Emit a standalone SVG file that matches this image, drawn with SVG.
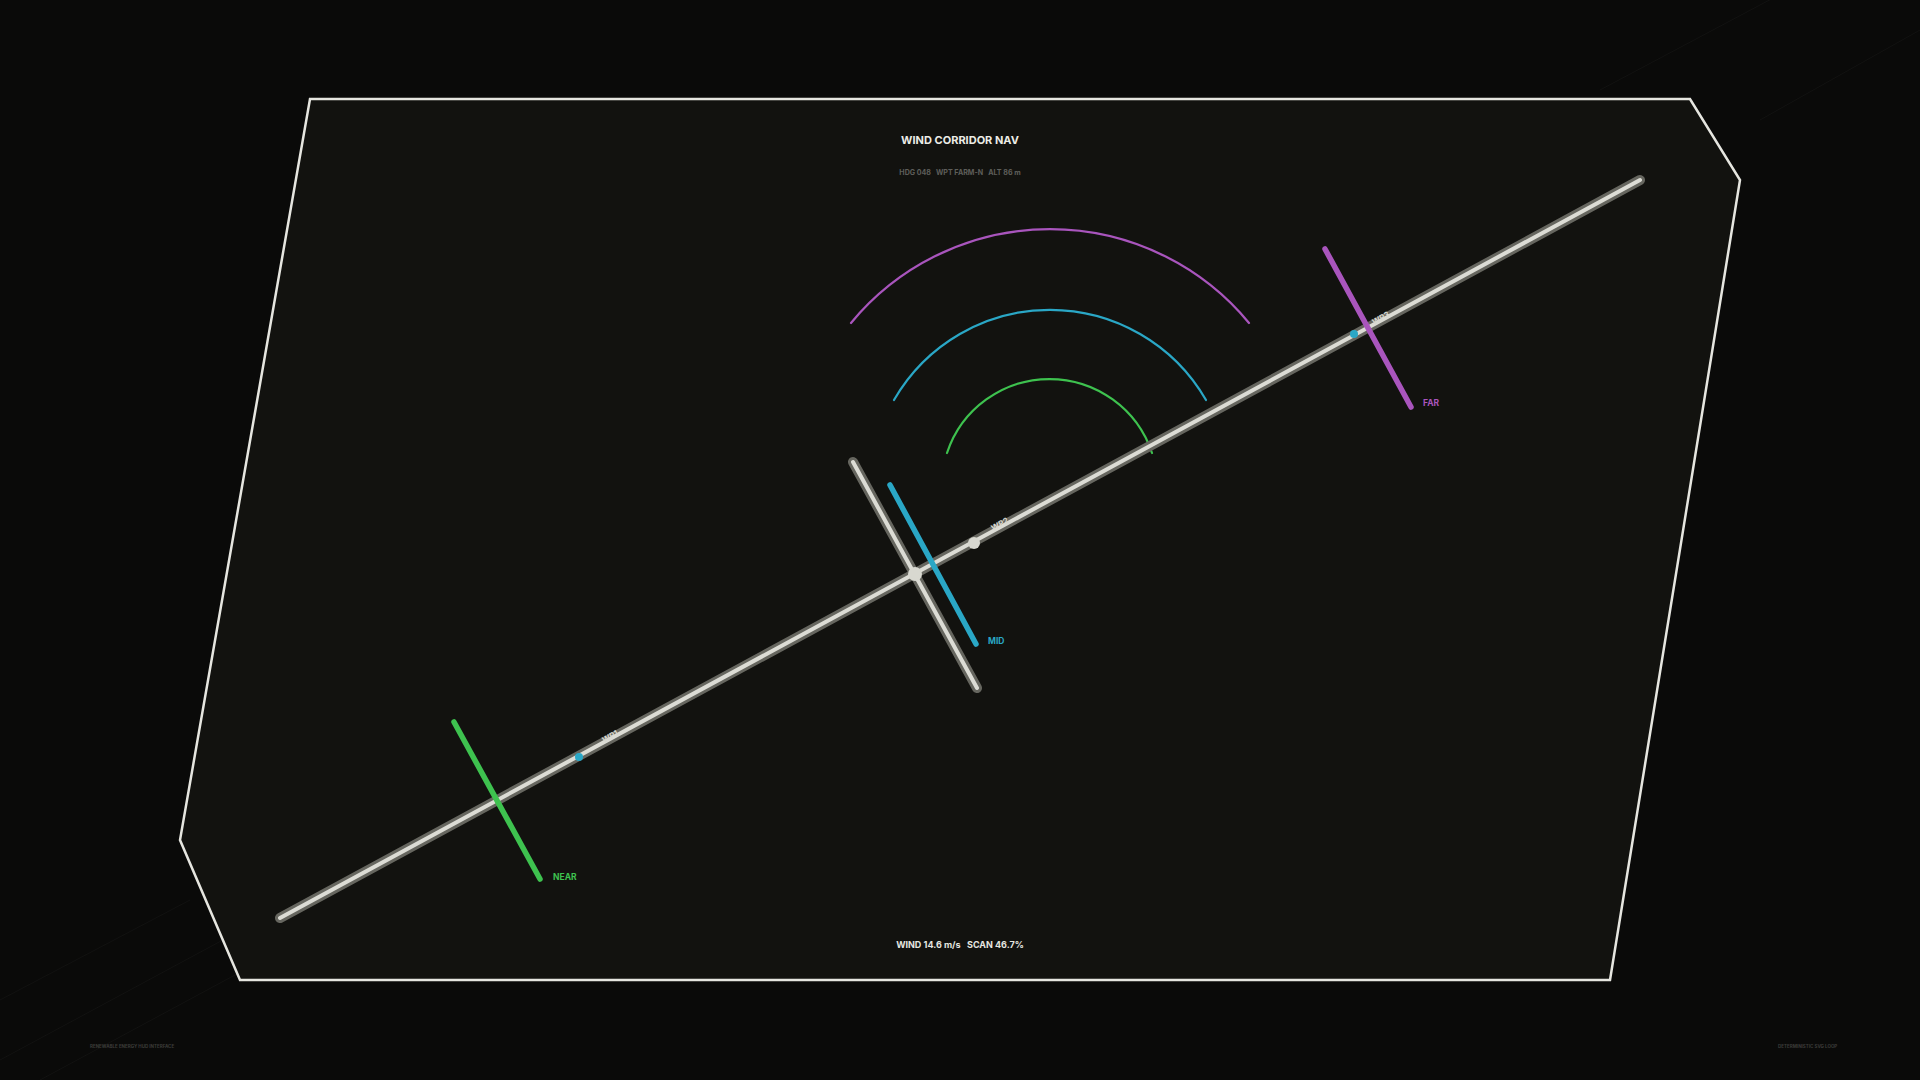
<svg xmlns="http://www.w3.org/2000/svg" width="1920" height="1080" viewBox="0 0 1920 1080">
  <style>
    .t{font-family:Inter,"Liberation Sans",sans-serif;font-weight:700}
    .trkO{stroke:#66665f;stroke-width:10;stroke-linecap:round;fill:none}
    .trkI{stroke:#dcdcd5;stroke-width:4;stroke-linecap:round;fill:none}
    .arc{fill:none;stroke-width:2.2;stroke-linecap:round}
    .bar{stroke-width:5.5;stroke-linecap:round;fill:none}
    .faint{stroke:#121211;stroke-width:1}
  </style>
  <rect width="1920" height="1080" fill="#0a0a09"/>
  <g id="bg-lines">
    <line class="faint" x1="1700" y1="0" x2="1920" y2="-120"/>
    <line class="faint" x1="1600" y1="90" x2="1920" y2="-80"/>
    <line class="faint" x1="1760" y1="120" x2="1920" y2="30"/>
    <line class="faint" x1="0" y1="1060" x2="260" y2="920"/>
    <line class="faint" x1="40" y1="1080" x2="300" y2="940"/>
    <line class="faint" x1="0" y1="1000" x2="190" y2="900"/>
  </g>
  <g id="frame">
    <polygon points="310,99 1690,99 1740,180 1610,980 240,980 180,840" fill="#12120f" stroke="#e6e6e0" stroke-width="2.5" stroke-linejoin="miter"/>
  </g>
  <g id="header">
    <text class="t" x="960" y="144" font-size="11" font-weight="800" fill="#ecece6" text-anchor="middle">WIND CORRIDOR NAV</text>
    <text class="t" x="960" y="175" font-size="7.1" fill="#5e5e5a" text-anchor="middle" xml:space="preserve">HDG 048   WPT FARM-N   ALT 86 m</text>
  </g>
  <g id="arcs">
    <path class="arc" stroke="#a955bd" d="M 851 323 A 258 258 0 0 1 1249 323"/>
    <path class="arc" stroke="#2aa7c6" d="M 894 400 A 180 180 0 0 1 1206 400"/>
    <path class="arc" stroke="#3ec24f" d="M 947 453 A 108 108 0 0 1 1152 453"/>
  </g>
  <g id="connectors">
    <g id="track">
      <line class="trkO" x1="280" y1="918" x2="1640" y2="180"/>
      <line class="trkI" x1="280" y1="918" x2="1640" y2="180"/>
    </g>
  </g>
  <g id="node-mid-gate">
    <line class="trkO" x1="853" y1="462" x2="977" y2="688" stroke-width="8"/>
    <line class="trkI" x1="853" y1="462" x2="977" y2="688"/>
    <circle cx="915" cy="574" r="7" fill="#d8d8d0"/>
  </g>
  <g id="node-near">
    <line class="bar" stroke="#3ec24f" x1="454" y1="722" x2="540" y2="879"/>
    <text class="t" x="553" y="880" font-size="8.5" fill="#3ec24f">NEAR</text>
  </g>
  <g id="node-mid">
    <line class="bar" stroke="#2aa7c6" x1="890" y1="485" x2="976" y2="644"/>
    <text class="t" x="988" y="644" font-size="8.5" fill="#2aa7c6">MID</text>
  </g>
  <g id="node-far">
    <line class="bar" stroke="#a955bd" x1="1325" y1="249" x2="1411" y2="407"/>
    <text class="t" x="1423" y="406" font-size="8.5" fill="#a955bd">FAR</text>
  </g>
  <g id="node-wp1">
    <circle cx="579" cy="757" r="4" fill="#2aa7c6"/>
    <text class="t" x="604" y="743" font-size="8" fill="#d8d8d0" transform="rotate(-28.5 604 743)">WP1</text>
  </g>
  <g id="node-wp2">
    <circle cx="974" cy="543" r="6" fill="#d8d8d0"/>
    <text class="t" x="993" y="531" font-size="8" fill="#d8d8d0" transform="rotate(-28.5 993 531)">WP2</text>
  </g>
  <g id="node-wp3">
    <circle cx="1354" cy="334" r="4" fill="#2aa7c6"/>
    <text class="t" x="1374" y="325" font-size="8" fill="#d8d8d0" transform="rotate(-28.5 1374 325)">WP3</text>
  </g>
  <g id="footer">
    <text class="t" x="960" y="948" font-size="9" fill="#e6e6e0" text-anchor="middle" xml:space="preserve">WIND 14.6 m/s   SCAN 46.7%</text>
    <text class="t" x="90" y="1048" font-size="4.5" fill="#3c3c39">RENEWABLE ENERGY HUD INTERFACE</text>
    <text class="t" x="1778" y="1048" font-size="4.5" fill="#3c3c39">DETERMINISTIC SVG LOOP</text>
  </g>
</svg>
